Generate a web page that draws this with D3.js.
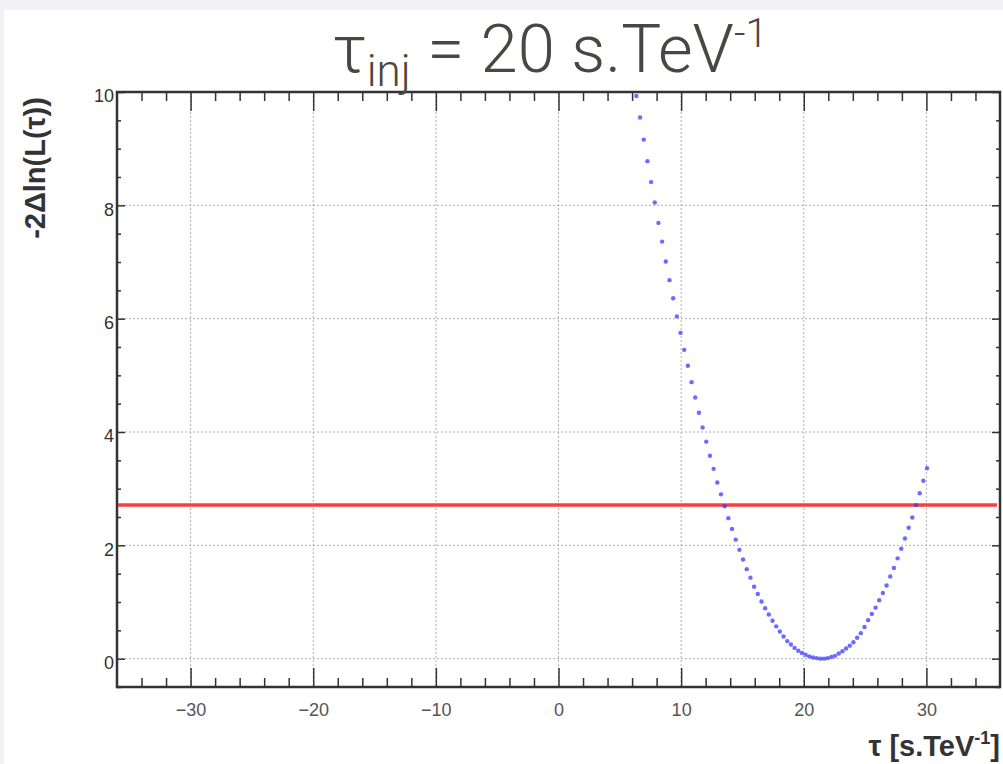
<!DOCTYPE html>
<html>
<head>
<meta charset="utf-8">
<script src="https://cdn.jsdelivr.net/npm/d3@7"></script>
<style>
  body { margin: 0; background: #f2f2f4; }
  #vis { position: absolute; left: 0; top: 0; }
</style>
</head>
<body>
<div id="vis"></div>
<script>
// tau scan points (s.TeV^-1) and -2 delta ln L
const tauValues = [
  6.35, 6.65, 6.95, 7.25, 7.55, 7.85, 8.15, 8.45, 8.75, 9.05,
  9.35, 9.65, 9.95, 10.25, 10.55, 10.85, 11.15, 11.45, 11.75, 12.05,
  12.35, 12.65, 12.95, 13.25, 13.55, 13.85, 14.15, 14.45, 14.75, 15.05,
  15.35, 15.65, 15.95, 16.25, 16.55, 16.85, 17.15, 17.45, 17.75, 18.05,
  18.35, 18.65, 18.95, 19.25, 19.55, 19.85, 20.15, 20.45, 20.75, 21.05,
  21.35, 21.65, 21.95, 22.25, 22.55, 22.85, 23.15, 23.45, 23.75, 24.05,
  24.35, 24.65, 24.95, 25.25, 25.55, 25.85, 26.15, 26.45, 26.75, 27.05,
  27.35, 27.65, 27.95, 28.25, 28.55, 28.85, 29.15, 29.45, 29.75, 30.05
];
const lnLValues = [
  9.93, 9.55, 9.16, 8.78, 8.41, 8.05, 7.69, 7.36, 7.01, 6.68,
  6.36, 6.04, 5.75, 5.45, 5.17, 4.88, 4.61, 4.34, 4.08, 3.83,
  3.58, 3.35, 3.11, 2.90, 2.69, 2.48, 2.29, 2.10, 1.92, 1.75,
  1.58, 1.43, 1.27, 1.14, 1.01, 0.89, 0.78, 0.67, 0.57, 0.48,
  0.39, 0.31, 0.25, 0.19, 0.14, 0.10, 0.07, 0.04, 0.02, 0.01,
  0.00, 0.00, 0.01, 0.03, 0.05, 0.09, 0.13, 0.18, 0.23, 0.29,
  0.37, 0.45, 0.56, 0.68, 0.79, 0.90, 1.03, 1.16, 1.29, 1.45,
  1.60, 1.77, 1.94, 2.12, 2.31, 2.49, 2.71, 2.92, 3.14, 3.36
];
const threshold = 2.71;
const xMajorTicks = [-30, -20, -10, 0, 10, 20, 30];
const xMinorTicks = [-34, -32, -28, -26, -24, -22, -18, -16, -14, -12, -8, -6, -4, -2,
  2, 4, 6, 8, 12, 14, 16, 18, 22, 24, 26, 28, 32, 34];
const yMajorTicks = [0, 2, 4, 6, 8, 10];
const yMinorTicks = [-0.5, 0.5, 1, 1.5, 2.5, 3, 3.5, 4.5, 5, 5.5, 6.5, 7, 7.5, 8.5, 9, 9.5];

const margin = { top: 92, right: 3, bottom: 77, left: 117 };
const width = 1003 - margin.left - margin.right;
const height = 764 - margin.top - margin.bottom;

const svg = d3.select("#vis")
  .append("svg")
    .attr("width", 1003)
    .attr("height", 764);

// white page with the grey strip left and top
svg.append("rect")
  .attr("x", 4).attr("y", 10)
  .attr("width", 999).attr("height", 754)
  .attr("fill", "#ffffff");

const plot = svg.append("g")
  .attr("transform", "translate(" + margin.left + "," + margin.top + ")");

const x = d3.scaleLinear().domain([-36, 36]).range([0, width]);
const y = d3.scaleLinear().domain([-0.5, 10]).range([height, 0]);

// Grid
plot.append("g").selectAll("line")
  .data(xMajorTicks)
  .join("line")
    .attr("x1", d => x(d)).attr("x2", d => x(d))
    .attr("y1", 0).attr("y2", height)
    .attr("stroke", "#b0b0b0")
    .attr("stroke-dasharray", "2,2");

plot.append("g").selectAll("line")
  .data(yMajorTicks.filter(d => d < 10))
  .join("line")
    .attr("x1", 0).attr("x2", width)
    .attr("y1", d => y(d)).attr("y2", d => y(d))
    .attr("stroke", "#b0b0b0")
    .attr("stroke-dasharray", "2,2");

// Axes (ticks on all four sides, pointing inward)
function styleAxis(g) {
  g.select(".domain").remove();
  g.selectAll(".tick line").attr("stroke", "#333").attr("stroke-width", 1.5);
}

plot.append("g")
  .attr("transform", "translate(0," + height + ")")
  .call(d3.axisBottom(x).tickValues(xMajorTicks).tickSize(-19).tickPadding(16))
  .call(styleAxis)
  .call(g => g.selectAll("text")
    .attr("font-family", "Liberation Sans, Arial, sans-serif")
    .attr("font-size", 18).attr("fill", "#555"));

plot.append("g")
  .attr("transform", "translate(0," + height + ")")
  .call(d3.axisBottom(x).tickValues(xMinorTicks).tickSize(-9).tickFormat(""))
  .call(styleAxis);

plot.append("g")
  .call(d3.axisTop(x).tickValues(xMajorTicks).tickSize(-19).tickFormat(""))
  .call(styleAxis);

plot.append("g")
  .call(d3.axisTop(x).tickValues(xMinorTicks).tickSize(-9).tickFormat(""))
  .call(styleAxis);

plot.append("g")
  .call(d3.axisLeft(y).tickValues(yMajorTicks).tickSize(-8).tickPadding(3))
  .call(styleAxis)
  .call(g => g.selectAll("text")
    .attr("dy", "0.55em")
    .attr("font-family", "Liberation Sans, Arial, sans-serif")
    .attr("font-size", 18).attr("fill", "#333"));

plot.append("g")
  .call(d3.axisLeft(y).tickValues(yMinorTicks).tickSize(-4).tickFormat(""))
  .call(styleAxis);

plot.append("g")
  .attr("transform", "translate(" + width + ",0)")
  .call(d3.axisRight(y).tickValues(yMajorTicks).tickSize(-8).tickFormat(""))
  .call(styleAxis);

plot.append("g")
  .attr("transform", "translate(" + width + ",0)")
  .call(d3.axisRight(y).tickValues(yMinorTicks).tickSize(-4).tickFormat(""))
  .call(styleAxis);

// Frame
plot.append("rect")
  .attr("width", width).attr("height", height)
  .attr("fill", "none")
  .attr("stroke", "#333")
  .attr("stroke-width", 2.5);

// Threshold line
plot.append("line")
  .attr("x1", x(-36) + 1).attr("x2", x(36) - 3)
  .attr("y1", y(threshold)).attr("y2", y(threshold))
  .attr("stroke", "#ff3c3c")
  .attr("stroke-width", 3.5);

// Scan points
plot.append("defs").append("clipPath").attr("id", "clip")
  .append("rect").attr("width", width).attr("height", height);

plot.append("g")
  .attr("clip-path", "url(#clip)")
  .selectAll("circle")
  .data(tauValues.map((t, i) => ({ tau: t, val: lnLValues[i] })))
  .join("circle")
    .attr("cx", d => x(d.tau))
    .attr("cy", d => y(d.val))
    .attr("r", 2.2)
    .attr("fill", "#3a3aff")
    .attr("fill-opacity", 0.75);

// Y-Axis Label
svg.append("text")
  .attr("transform", "translate(45,168) rotate(-90)")
  .style("text-anchor", "middle")
  .attr("font-family", "Liberation Sans, Arial, sans-serif")
  .attr("font-weight", "bold")
  .attr("font-size", 29)
  .attr("fill", "#333")
  .text("-2\u0394ln(L(\u03c4))");

// X-Axis Label
const xLabel = svg.append("text")
  .attr("x", 1000).attr("y", 756)
  .style("text-anchor", "end")
  .attr("font-family", "Liberation Sans, Arial, sans-serif")
  .attr("font-weight", "bold")
  .attr("font-size", 29)
  .attr("fill", "#333");
xLabel.append("tspan").text("\u03c4 [s.TeV");
xLabel.append("tspan").attr("dy", -12).attr("font-size", 18).text("-1");
xLabel.append("tspan").attr("dy", 12).text("]");

// Graph Title
const title = svg.append("text")
  .attr("x", 550).attr("y", 72)
  .style("text-anchor", "middle")
  .attr("font-family", "Roboto, Lato, sans-serif")
  .attr("font-weight", 300)
  .attr("font-size", 67)
  .attr("fill", "#4a4641");
title.append("tspan").text("\u03c4");
title.append("tspan").attr("dy", 14).attr("font-size", 44).text("inj");
title.append("tspan").attr("dy", -14).text(" = 20 s.TeV");
title.append("tspan").attr("dy", -25).attr("font-size", 40).text("-1");
</script>
</body>
</html>
